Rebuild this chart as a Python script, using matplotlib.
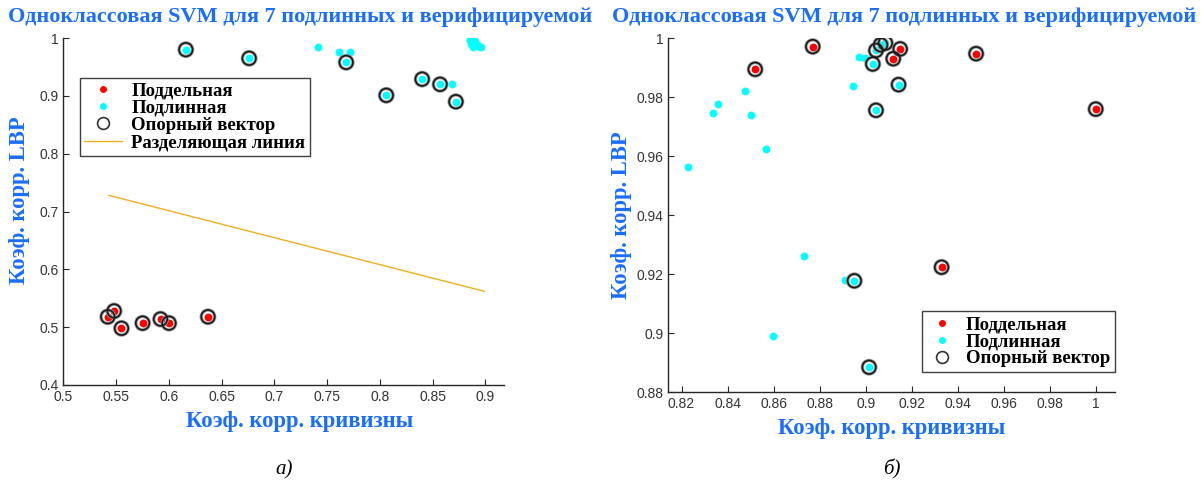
import matplotlib
matplotlib.use("Agg")
import matplotlib.pyplot as plt
from matplotlib.lines import Line2D

# ---- data, panel a) ----
fake_a_x = [0.542, 0.548, 0.555, 0.575, 0.592, 0.600, 0.637]
fake_a_y = [0.518, 0.528, 0.498, 0.507, 0.514, 0.507, 0.518]

gen_a_x = [0.616, 0.676, 0.741, 0.761, 0.772, 0.768, 0.806, 0.840, 0.857, 0.868, 0.872,
           0.885, 0.887, 0.886, 0.889, 0.888, 0.891, 0.893, 0.896, 0.890, 0.894]
gen_a_y = [0.980, 0.965, 0.984, 0.976, 0.976, 0.958, 0.901, 0.929, 0.920, 0.920, 0.890,
           0.996, 0.993, 0.990, 0.988, 0.985, 0.990, 0.986, 0.985, 0.995, 0.987]

sv_a_x = [0.542, 0.548, 0.555, 0.575, 0.592, 0.600, 0.637,
          0.616, 0.676, 0.768, 0.806, 0.840, 0.857, 0.872]
sv_a_y = [0.518, 0.528, 0.498, 0.507, 0.514, 0.507, 0.518,
          0.980, 0.965, 0.958, 0.901, 0.929, 0.920, 0.890]

line_a_x = [0.543, 0.899]
line_a_y = [0.728, 0.562]

# ---- data, panel б) ----
fake_b_x = [0.852, 0.877, 0.912, 0.915, 0.948, 1.000, 0.933]
fake_b_y = [0.9894, 0.9971, 0.9930, 0.9963, 0.9947, 0.9759, 0.9223]

gen_b_x = [0.8228, 0.8335, 0.8359, 0.8475, 0.8502, 0.8567, 0.8943, 0.8973, 0.8998,
           0.8734, 0.8910, 0.8596,
           0.9045, 0.9065, 0.9086, 0.9031, 0.9143, 0.9045, 0.8951, 0.9015]
gen_b_y = [0.9564, 0.9745, 0.9777, 0.9821, 0.9740, 0.9625, 0.9836, 0.9936, 0.9932,
           0.9262, 0.9180, 0.8989,
           0.9958, 0.9977, 0.9983, 0.9912, 0.9842, 0.9755, 0.9177, 0.8884]

sv_b_x = [0.852, 0.877, 0.912, 0.915, 0.948, 1.000, 0.933,
          0.9045, 0.9065, 0.9086, 0.9031, 0.9143, 0.9045, 0.8951, 0.9015]
sv_b_y = [0.9894, 0.9971, 0.9930, 0.9963, 0.9947, 0.9759, 0.9223,
          0.9958, 0.9977, 0.9983, 0.9912, 0.9842, 0.9755, 0.9177, 0.8884]

title = "Одноклассовая SVM для 7 подлинных и верифицируемой"
xlab = "Коэф. корр. кривизны"
ylab = "Коэф. корр. LBP"
lab_fake = "Поддельная"
lab_gen = "Подлинная"
lab_sv = "Опорный вектор"
lab_line = "Разделяющая линия"

blue = "#1a6dff"
serif = ["Liberation Serif", "DejaVu Serif"]
sans = ["Liberation Sans", "DejaVu Sans"]

fig = plt.figure(figsize=(12.02, 4.9), dpi=100)
ax1 = fig.add_axes([0.0528, 0.2143, 0.3665, 0.708])
ax2 = fig.add_axes([0.5561, 0.2, 0.3714, 0.7224])


def style(ax):
    for s in ["top", "right"]:
        ax.spines[s].set_visible(False)
    for s in ["left", "bottom"]:
        ax.spines[s].set_color("#262626")
        ax.spines[s].set_linewidth(1.0)
    ax.tick_params(direction="in", length=4, width=0.8, colors="#262626",
                   labelsize=10, labelcolor="#333333")
    for t in ax.get_xticklabels() + ax.get_yticklabels():
        t.set_family(sans)
    ax.set_xlabel(xlab, family=serif, fontweight="bold", fontsize=16.3,
                  color=blue, labelpad=5)
    ax.set_ylabel(ylab, family=serif, fontweight="bold", fontsize=16.3,
                  color=blue, labelpad=3)


def scatter_all(ax, fx, fy, gx, gy, sx, sy):
    ax.scatter(fx, fy, s=32, color="red", zorder=3, linewidths=0)
    ax.scatter(gx, gy, s=32, color="cyan", zorder=3, linewidths=0)
    ax.scatter(sx, sy, s=95, facecolors="none", edgecolors="#999999",
               linewidths=2.4, zorder=4)
    ax.scatter(sx, sy, s=95, facecolors="none", edgecolors="#1a1a1a",
               linewidths=1.2, zorder=5)


handles = [
    Line2D([], [], marker="o", ls="none", color="red", markersize=5, markeredgewidth=0),
    Line2D([], [], marker="o", ls="none", color="cyan", markersize=5, markeredgewidth=0),
    Line2D([], [], marker="o", ls="none", markerfacecolor="none",
           markeredgecolor="#333333", markersize=8.5, markeredgewidth=1.2),
    Line2D([], [], color="#EDB120", lw=1.0),
]
leg_kw = dict(borderaxespad=0, frameon=True, fancybox=False, framealpha=1,
              edgecolor="#404040", handletextpad=0.5, labelspacing=0.0,
              borderpad=0.25, prop={"family": serif, "weight": "bold", "size": 13.5})

# panel a)
scatter_all(ax1, fake_a_x, fake_a_y, gen_a_x, gen_a_y, sv_a_x, sv_a_y)
ax1.plot(line_a_x, line_a_y, color="#EDB120", lw=1.0, zorder=2)
ax1.set_xlim(0.5, 0.9176)
ax1.set_ylim(0.4, 1.0)
ax1.set_xticks([0.5, 0.55, 0.6, 0.65, 0.7, 0.75, 0.8, 0.85, 0.9])
ax1.set_xticklabels(["0.5", "0.55", "0.6", "0.65", "0.7", "0.75", "0.8", "0.85", "0.9"])
ax1.set_yticks([0.4, 0.5, 0.6, 0.7, 0.8, 0.9, 1.0])
ax1.set_yticklabels(["0.4", "0.5", "0.6", "0.7", "0.8", "0.9", "1"])
style(ax1)
ax1.xaxis.set_label_coords(0.537, -0.075)
ax1.yaxis.set_label_coords(-0.075, 0.533)
fig.text(0.25, 0.965, title, ha="center", va="center", family=serif,
         fontweight="bold", fontsize=16, color=blue)

leg1 = ax1.legend(handles, [lab_fake, lab_gen, lab_sv, lab_line],
                  loc="upper left", bbox_to_anchor=(0.037, 0.885),
                  handlelength=2.0, **leg_kw)
leg1.get_frame().set_linewidth(1.0)

ax1.text(0.5, -0.245, "а)", transform=ax1.transAxes, ha="center", va="center",
         family=serif, style="italic", fontsize=15)

# panel б)
scatter_all(ax2, fake_b_x, fake_b_y, gen_b_x, gen_b_y, sv_b_x, sv_b_y)
ax2.set_xlim(0.8143, 1.0083)
ax2.set_ylim(0.88, 1.0)
ax2.set_xticks([0.82, 0.84, 0.86, 0.88, 0.9, 0.92, 0.94, 0.96, 0.98, 1.0])
ax2.set_xticklabels(["0.82", "0.84", "0.86", "0.88", "0.9", "0.92", "0.94",
                     "0.96", "0.98", "1"])
ax2.set_yticks([0.88, 0.9, 0.92, 0.94, 0.96, 0.98, 1.0])
ax2.set_yticklabels(["0.88", "0.9", "0.92", "0.94", "0.96", "0.98", "1"])
style(ax2)
fig.text(0.752, 0.965, title, ha="center", va="center", family=serif,
         fontweight="bold", fontsize=16, color=blue)

leg2 = ax2.legend(handles[:3], [lab_fake, lab_gen, lab_sv],
                  loc="lower right", bbox_to_anchor=(1.0, 0.056),
                  handlelength=1.6, **leg_kw)
leg2.get_frame().set_linewidth(1.0)

ax2.text(0.5, -0.22, "б)", transform=ax2.transAxes, ha="center", va="center",
         family=serif, style="italic", fontsize=15)

fig.savefig("out.png", dpi=100)
